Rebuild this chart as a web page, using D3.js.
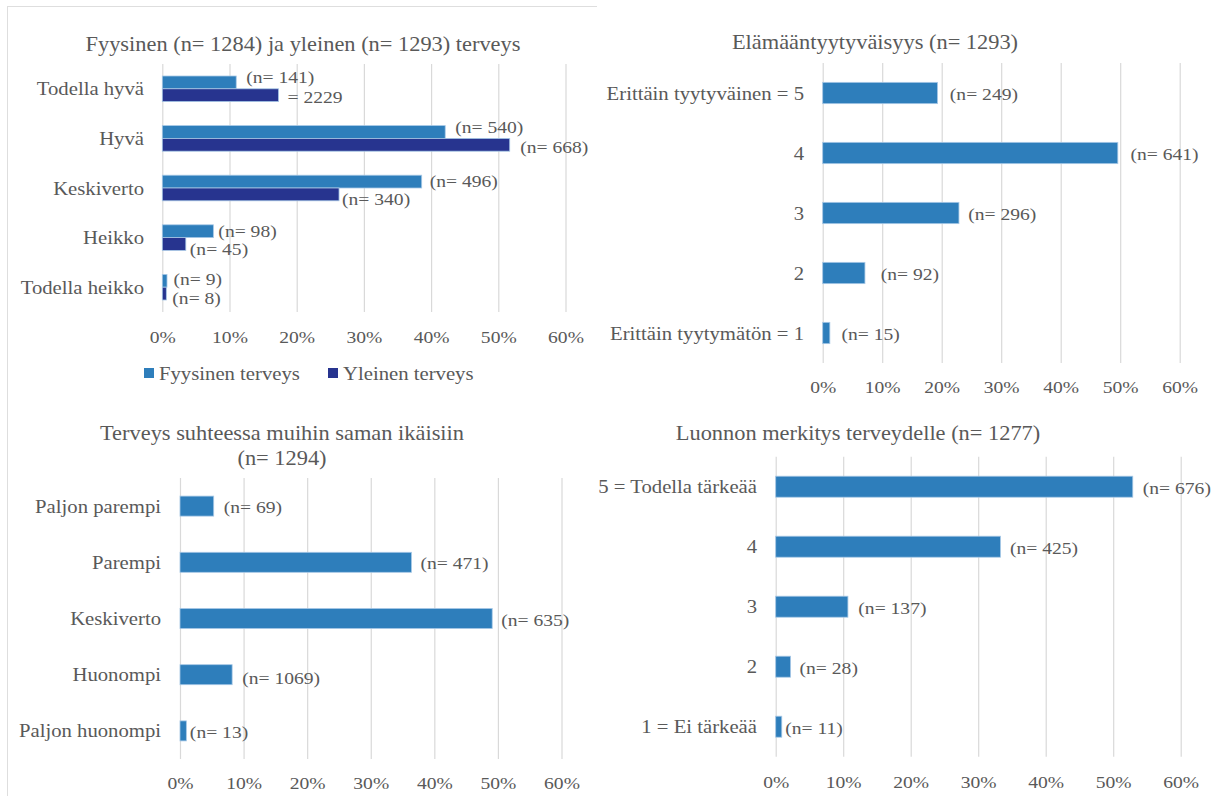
<!DOCTYPE html>
<html>
<head>
<meta charset="utf-8">
<script src="https://cdn.jsdelivr.net/npm/d3@7"></script>
<style>
  body { margin: 0; background: #fff; }
  svg { display: block; }
  text { font-family: "Liberation Serif", "Times New Roman", serif; fill: #595959; }
</style>
</head>
<body>
<svg id="chart" width="1213" height="796"></svg>
<script>
// Fyysinen ja yleinen terveys (%)
const healthCategories = ["Todella hyvä", "Hyvä", "Keskiverto", "Heikko", "Todella heikko"];
const healthSeries = ["Fyysinen terveys", "Yleinen terveys"];
const physicalPct = [11.0, 42.1, 38.6, 7.6, 0.7];
const generalPct = [17.3, 51.7, 26.3, 3.5, 0.6];
const physicalLabels = ["(n= 141)", "(n= 540)", "(n= 496)", "(n= 98)", "(n= 9)"];
const generalLabels = ["= 2229", "(n= 668)", "(n= 340)", "(n= 45)", "(n= 8)"];

// Elämääntyytyväisyys (%)
const satisfactionCategories = ["Erittäin tyytyväinen = 5", "4", "3", "2", "Erittäin tyytymätön = 1"];
const satisfactionPct = [19.3, 49.6, 22.9, 7.1, 1.2];
const satisfactionLabels = ["(n= 249)", "(n= 641)", "(n= 296)", "(n= 92)", "(n= 15)"];

// Terveys suhteessa muihin saman ikäisiin (%)
const peerCategories = ["Paljon parempi", "Parempi", "Keskiverto", "Huonompi", "Paljon huonompi"];
const peerPct = [5.3, 36.4, 49.1, 8.2, 1.0];
const peerLabels = ["(n= 69)", "(n= 471)", "(n= 635)", "(n= 1069)", "(n= 13)"];

// Luonnon merkitys terveydelle (%)
const natureCategories = ["5 = Todella tärkeää", "4", "3", "2", "1 = Ei tärkeää"];
const naturePct = [52.9, 33.3, 10.7, 2.2, 0.9];
const natureLabels = ["(n= 676)", "(n= 425)", "(n= 137)", "(n= 28)", "(n= 11)"];

const percentTicks = [0, 10, 20, 30, 40, 50, 60];

// ---- styling ----
const BLUE = "#2e7ebb";
const NAVY = "#27348f";
const GRID = "#d9d9d9";
const SX = 1.12; // slightly wide lettering

const svg = d3.select("#chart");
svg.append("rect").attr("width", 1213).attr("height", 796).attr("fill", "#fff");

// light frame around the left-hand charts
svg.append("line").attr("x1", 7).attr("x2", 597).attr("y1", 6.5).attr("y2", 6.5)
  .attr("stroke", "#dedede").attr("stroke-width", 1);
svg.append("line").attr("x1", 7.5).attr("x2", 7.5).attr("y1", 6).attr("y2", 796)
  .attr("stroke", "#dedede").attr("stroke-width", 1);

function addText(g, x, y, str, size, anchor) {
  return g.append("text")
    .attr("transform", `translate(${x},${y}) scale(${SX},1)`)
    .attr("text-anchor", anchor || "start")
    .attr("dominant-baseline", "central")
    .style("font-size", size + "px")
    .text(str);
}

function drawPanel(p) {
  const g = svg.append("g");
  const x = d3.scaleLinear().domain([0, 60]).range([p.x0, p.x1]);
  const y = d3.scaleBand().domain(p.categories).range([p.y0, p.y1])
    .paddingInner(p.pad).paddingOuter(p.pad / 2);
  const sub = d3.scaleBand().domain(d3.range(p.series.length)).range([0, y.bandwidth()]);

  // vertical gridlines
  const grid = g.append("g").attr("transform", `translate(0,${p.y1})`)
    .call(d3.axisBottom(x).tickValues(percentTicks).tickSize(-(p.y1 - p.y0)).tickFormat(""));
  grid.select(".domain").remove();
  grid.selectAll(".tick line").attr("stroke", GRID).attr("stroke-width", 1.2);

  // percentage axis labels
  const ax = g.append("g").attr("transform", `translate(0,${p.tickY})`)
    .call(d3.axisBottom(x).tickValues(percentTicks).tickSize(0).tickPadding(0).tickFormat(d => d + "%"));
  ax.select(".domain").remove();
  ax.selectAll(".tick text")
    .attr("y", 0).attr("dy", null)
    .attr("dominant-baseline", "central")
    .attr("transform", `scale(${SX},1)`)
    .attr("fill", "#595959")
    .style("font-family", '"Liberation Serif", "Times New Roman", serif')
    .style("font-size", "17.5px");

  // category labels
  p.categories.forEach(c => {
    addText(g, p.catX, y(c) + y.bandwidth() / 2, c, 18.5, "end");
  });

  // bars and value labels
  p.series.forEach((s, si) => {
    g.append("g").selectAll("rect")
      .data(s.values)
      .join("rect")
      .attr("x", x(0))
      .attr("y", (d, i) => y(p.categories[i]) + sub(si))
      .attr("width", d => x(d) - x(0))
      .attr("height", sub.bandwidth())
      .attr("fill", s.color)
      .attr("stroke", "#a7c8e6")
      .attr("stroke-width", 0.8);

    s.values.forEach((v, i) => {
      const cy = y(p.categories[i]) + sub(si) + sub.bandwidth() / 2;
      addText(g, x(v) + s.dx[i], cy + s.dy[i], s.labels[i], 17.5, "start");
    });
  });

  // title
  p.title.forEach((line, li) => {
    addText(g, p.titleX, p.titleY + li * 25, line, 20, "middle");
  });

  return g;
}

// Fyysinen ja yleinen terveys
const p1 = drawPanel({
  categories: healthCategories,
  x0: 162.3, x1: 565.5, y0: 64, y1: 312, pad: 0.484,
  catX: 144, tickY: 337,
  title: ["Fyysinen (n= 1284) ja yleinen (n= 1293) terveys"], titleX: 303, titleY: 44,
  series: [
    { values: physicalPct, labels: physicalLabels, color: BLUE,
      dx: [10, 10, 8, 5, 6.5], dy: [-6, -5.5, -1, -0.5, -1.5] },
    { values: generalPct, labels: generalLabels, color: NAVY,
      dx: [9, 10.5, 3, 4, 6], dy: [1.8, 2.2, 4.6, 5, 4.4] }
  ]
});

// legend
const legend = svg.append("g");
const legendItems = [
  { name: healthSeries[0], color: BLUE, x: 144 },
  { name: healthSeries[1], color: NAVY, x: 328 }
];
legendItems.forEach(it => {
  legend.append("rect").attr("x", it.x).attr("y", 368).attr("width", 10).attr("height", 10).attr("fill", it.color);
  addText(legend, it.x + 15, 373, it.name, 18.5, "start");
});

// Elämääntyytyväisyys
drawPanel({
  categories: satisfactionCategories,
  x0: 822.7, x1: 1179.7, y0: 63, y1: 363, pad: 0.645,
  catX: 804, tickY: 387,
  title: ["Elämääntyytyväisyys (n= 1293)"], titleX: 875, titleY: 42,
  series: [
    { values: satisfactionPct, labels: satisfactionLabels, color: BLUE,
      dx: [12.3, 12.6, 9.2, 15.7, 11.7], dy: [1, 1, 1, 1, 1] }
  ]
});

// Terveys suhteessa muihin saman ikäisiin
drawPanel({
  categories: peerCategories,
  x0: 180, x1: 561.5, y0: 478, y1: 759, pad: 0.644,
  catX: 161, tickY: 783,
  title: ["Terveys suhteessa muihin saman ikäisiin", "(n= 1294)"], titleX: 282, titleY: 433,
  series: [
    { values: peerPct, labels: peerLabels, color: BLUE,
      dx: [10, 9, 9, 10, 3.5], dy: [1, 1, 1, 3, 1] }
  ]
});

// Luonnon merkitys terveydelle
drawPanel({
  categories: natureCategories,
  x0: 775.7, x1: 1180.7, y0: 456.7, y1: 756.7, pad: 0.65,
  catX: 757, tickY: 781.7,
  title: ["Luonnon merkitys terveydelle (n= 1277)"], titleX: 858, titleY: 433,
  series: [
    { values: naturePct, labels: natureLabels, color: BLUE,
      dx: [10, 9.4, 10.4, 9, 3.4], dy: [1, 1, 1, 1, 1] }
  ]
});
</script>
</body>
</html>
